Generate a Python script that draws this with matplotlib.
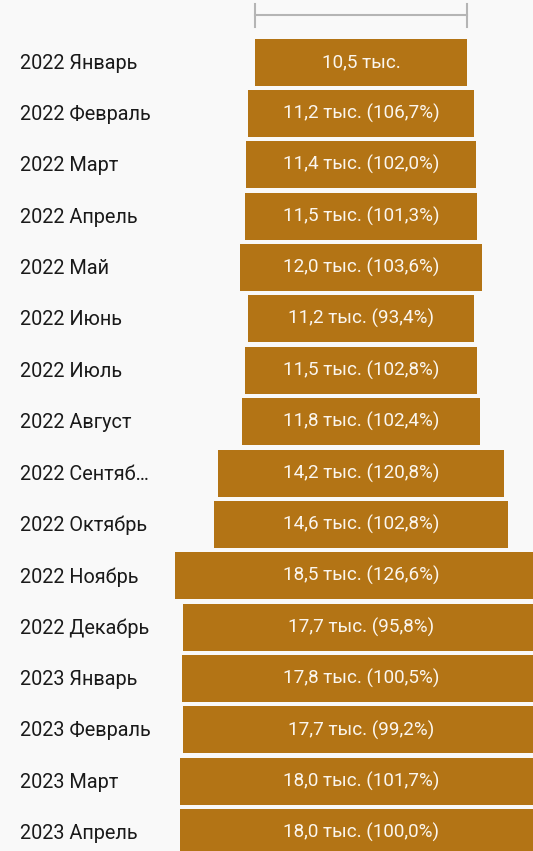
import matplotlib.pyplot as plt
import numpy as np

months = ["2022 Январь", "2022 Февраль", "2022 Март", "2022 Апрель", "2022 Май",
          "2022 Июнь", "2022 Июль", "2022 Август", "2022 Сентяб…", "2022 Октябрь",
          "2022 Ноябрь", "2022 Декабрь", "2023 Январь", "2023 Февраль", "2023 Март",
          "2023 Апрель"]
values = [10.5, 11.2, 11.4, 11.5, 12.0, 11.2, 11.5, 11.8, 14.2, 14.6,
          18.5, 17.7, 17.8, 17.7, 18.0, 18.0]
pct = [None, "106,7%", "102,0%", "101,3%", "103,6%", "93,4%", "102,8%", "102,4%",
       "120,8%", "102,8%", "126,6%", "95,8%", "100,5%", "99,2%", "101,7%", "100,0%"]

bar_color = "#b37415"
bg = "#f9f9f9"

W, H = 533, 851
px_k = 20.12      # pixels per thousand
cx = 361          # bar centre, px
row = 51.38       # row pitch, px
y0 = 62           # first row centre, px

fig = plt.figure(figsize=(W / 100, H / 100), dpi=100, facecolor=bg)
ax = fig.add_axes([0, 0, 1, 1])
ax.set_facecolor(bg)
ax.set_xlim(-cx / px_k, (W - cx) / px_k)
ax.set_ylim((H - y0) / row, -y0 / row)
ax.axis("off")

vals = np.array(values)
ypos = np.arange(len(vals))
ax.barh(ypos, vals, left=-vals / 2, height=47 / row, color=bar_color)

for i, (m, v, p) in enumerate(zip(months, values, pct)):
    ax.text(20 / W, i + 0.02, m, transform=ax.get_yaxis_transform(), ha="left",
            va="center", fontsize=14.3, family="Roboto", color="#1a1a1a")
    s = f"{v:.1f}".replace(".", ",") + " тыс."
    if p:
        s += f" ({p})"
    ax.text(0, i, s, ha="center", va="center", fontsize=13.6, family="Roboto",
            color="#fbf6ee")

# scale bracket on top
ys = (15 - y0) / row
ax.plot([-vals[0] / 2, vals[0] / 2], [ys, ys], color="#b5b5b5", lw=1.5)
for xe in (-vals[0] / 2, vals[0] / 2):
    ax.plot([xe, xe], [(4 - y0) / row, (27 - y0) / row], color="#b5b5b5", lw=1.5)

fig.savefig("out.png", dpi=100, facecolor=bg)
